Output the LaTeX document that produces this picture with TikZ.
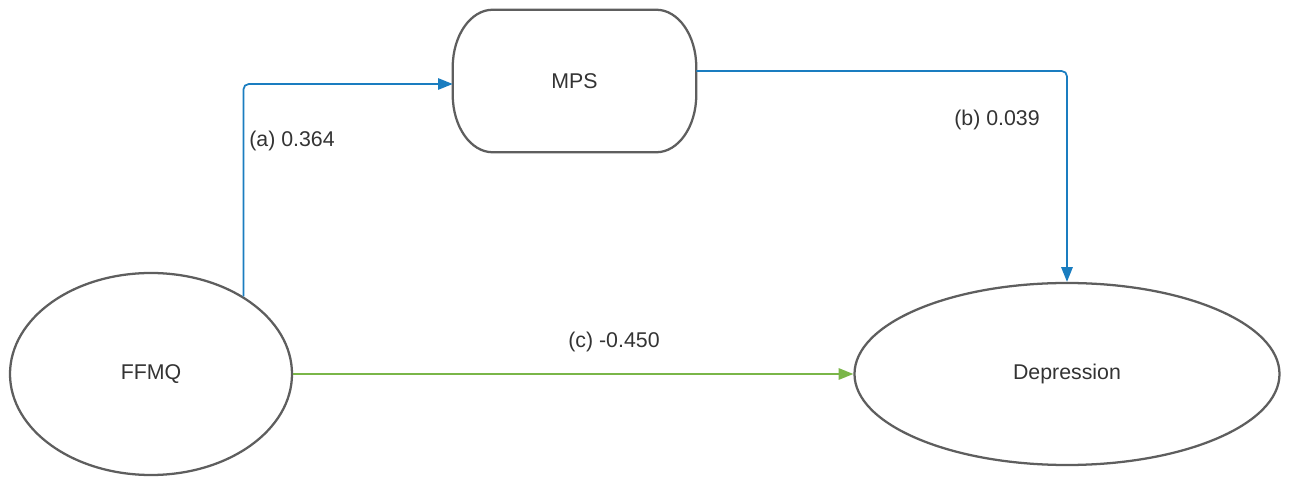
\documentclass[tikz,border=0pt]{standalone}
\usepackage{fontspec}
\setmainfont{Liberation Sans}
\usetikzlibrary{shapes.geometric,arrows.meta}
\definecolor{edgegrey}{HTML}{5E5E5E}
\definecolor{txtgrey}{HTML}{333333}
\definecolor{linkblue}{HTML}{1A7DC0}
\definecolor{linkgreen}{HTML}{7AB648}
\begin{document}
\begin{tikzpicture}[x=0.75pt,y=-0.75pt,
  lbl/.style={font=\fontsize{16}{19}\selectfont, text=txtgrey},
  latent/.style={ellipse, draw=edgegrey, line width=1.7pt, inner sep=0pt, lbl},
  blueconn/.style={draw=linkblue, line width=1.3pt, rounded corners=4pt, -{Triangle[length=11pt,width=8.5pt]}},
  greenconn/.style={draw=linkgreen, line width=1.3pt, -{Triangle[length=11pt,width=8.5pt]}}]
\useasboundingbox (0,0) rectangle (1290,477);
\node[latent, minimum width=211.5pt, minimum height=151.5pt] (ffmq) at (151,374) {FFMQ};
\node[latent, minimum width=318.75pt, minimum height=136.5pt] (dep) at (1067,374) {Depression};
\node[lbl, rectangle, inner sep=0pt, minimum width=182.25pt, minimum height=106.5pt] (mps) at (574.5,81) {MPS};
\draw[edgegrey, line width=1.7pt]
  ([xshift=30pt]mps.north west) -- ([xshift=-30pt]mps.north east)
  arc[start angle=90, end angle=0, x radius=30pt, y radius=43pt]
  -- ([yshift=43pt]mps.south east)
  arc[start angle=0, end angle=-90, x radius=30pt, y radius=43pt]
  -- ([xshift=30pt]mps.south west)
  arc[start angle=270, end angle=180, x radius=30pt, y radius=43pt]
  -- ([yshift=-43pt]mps.north west)
  arc[start angle=180, end angle=90, x radius=30pt, y radius=43pt] -- cycle;
\draw[blueconn] (ffmq.40.2) |- ([yshift=-2.25pt]mps.west);
\draw[blueconn] ([yshift=7.5pt]mps.east) -| (dep.north);
\draw[greenconn] (ffmq.east) -- (dep.west);
\node[lbl] (la) at (292,141) {(a) 0.364};
\node[lbl] (lb) at (997,120) {(b) 0.039};
\node[lbl] (lc) at (614,342) {(c) -0.450};
\end{tikzpicture}
\end{document}
